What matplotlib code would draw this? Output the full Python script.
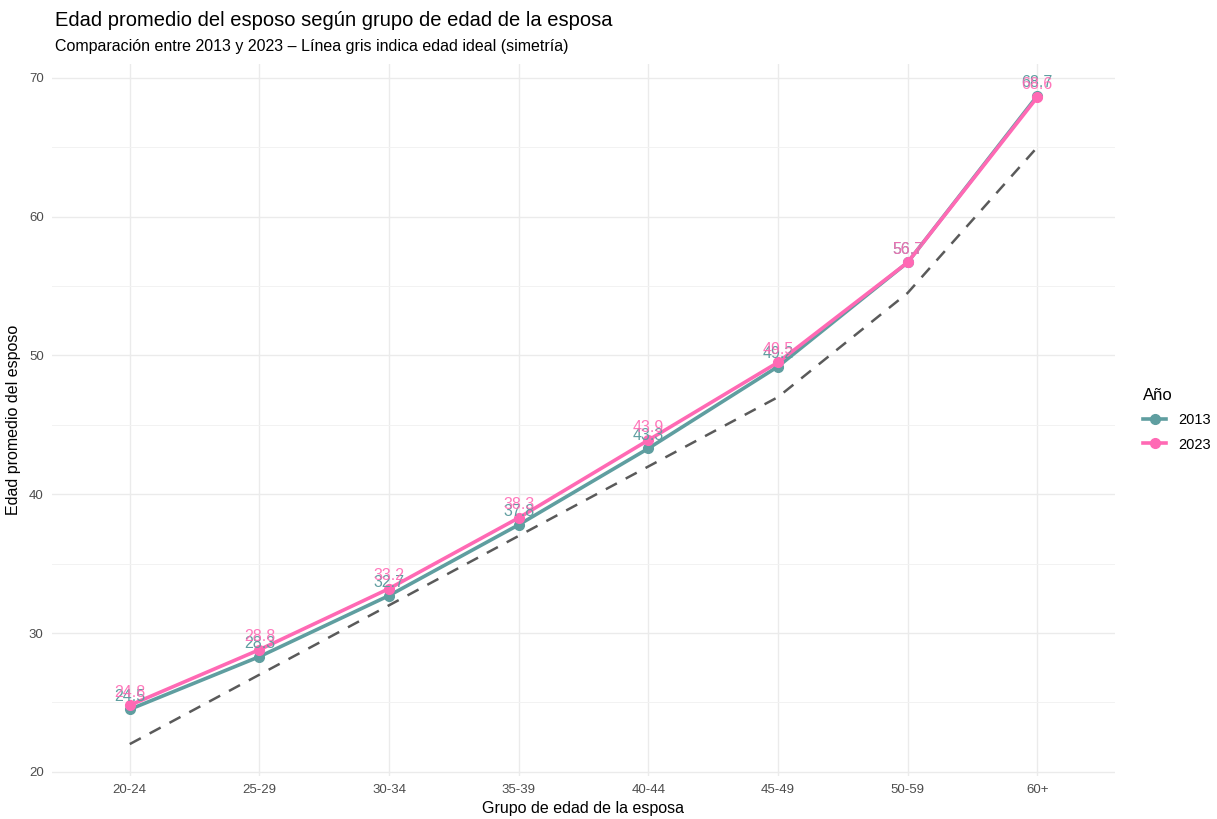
import numpy as np
import matplotlib.pyplot as plt
from matplotlib.lines import Line2D

plt.rcParams['font.family'] = ['Liberation Sans', 'DejaVu Sans']

grupos = ["20-24", "25-29", "30-34", "35-39", "40-44", "45-49", "50-59", "60+"]
edad_2013 = [24.5, 28.3, 32.7, 37.8, 43.3, 49.2, 56.7, 68.7]
edad_2023 = [24.8, 28.8, 33.2, 38.3, 43.9, 49.5, 56.7, 68.6]
edad_ideal = [22, 27, 32, 37, 42, 47, 54.5, 65]

col_2013 = "#5F9EA0"
col_2023 = "#FF69B4"

fig = plt.figure(figsize=(12.17, 8.19), dpi=100)
ax = fig.add_axes([52 / 1217, 1 - 776 / 819, (1115 - 52) / 1217, (776 - 64) / 819])

x = np.arange(len(grupos))

ax.plot(x, edad_ideal, color="#5A5A5A", linestyle=(0, (5, 4)), linewidth=1.8, zorder=2)
ax.plot(x, edad_2013, color=col_2013, linewidth=2.6, marker="o", markersize=7, zorder=3)
ax.plot(x, edad_2023, color=col_2023, linewidth=2.6, marker="o", markersize=7, zorder=4)

# etiquetas de valor (se solapan igual que en el original)
for xi, v in zip(x, edad_2013):
    ax.annotate(f"{v:.1f}", (xi, v), xytext=(0, 4), textcoords="offset points",
                ha="center", va="bottom", color=col_2013, fontsize=11.5, zorder=5)
for xi, v in zip(x, edad_2023):
    ax.annotate(f"{v:.1f}", (xi, v), xytext=(0, 4), textcoords="offset points",
                ha="center", va="bottom", color=col_2023, fontsize=11.5, alpha=0.9, zorder=5)

ax.set_xlim(-0.6, len(grupos) - 0.4)
ax.set_ylim(19.7, 71.0)
ax.set_xticks(x)
ax.set_xticklabels(grupos)
ax.set_yticks([20, 30, 40, 50, 60, 70])
ax.set_yticks([25, 35, 45, 55, 65], minor=True)

ax.grid(True, which="major", color="#EBEBEB", linewidth=1.0)
ax.grid(True, which="minor", axis="y", color="#F2F2F2", linewidth=0.7)
ax.set_axisbelow(True)
for s in ax.spines.values():
    s.set_visible(False)
ax.tick_params(which="both", length=0, colors="#4D4D4D", labelsize=9.5, pad=6)

ax.set_xlabel("Grupo de edad de la esposa", fontsize=11.5, labelpad=3)
ax.set_ylabel("Edad promedio del esposo", fontsize=11.5, labelpad=6)

fig.text(55 / 1217, 1 - 20 / 819, "Edad promedio del esposo según grupo de edad de la esposa",
         fontsize=14.5, va="center", ha="left")
fig.text(55 / 1217, 1 - 47 / 819, "Comparación entre 2013 y 2023 – Línea gris indica edad ideal (simetría)",
         fontsize=11.5, va="center", ha="left")

handles = [
    Line2D([0], [0], color=col_2013, linewidth=2.6, marker="o", markersize=7),
    Line2D([0], [0], color=col_2023, linewidth=2.6, marker="o", markersize=7),
]
leg = fig.legend(handles, ["2013", "2023"], title="Año", loc="upper left",
                 bbox_to_anchor=(1130 / 1217, 1 - 375 / 819), frameon=False,
                 fontsize=10.5, title_fontsize=12, handlelength=1.6, labelspacing=0.7)
leg._legend_box.align = "left"

fig.savefig("out.png", dpi=100, facecolor="white")
